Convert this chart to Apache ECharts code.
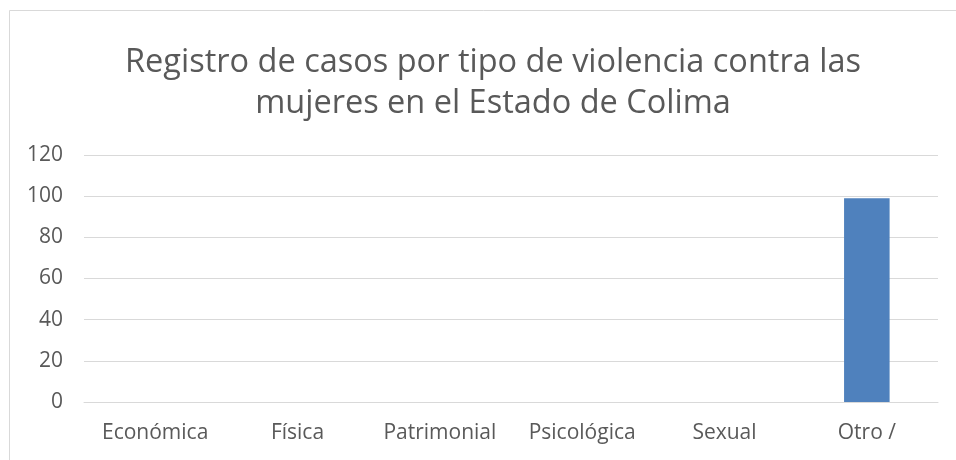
<!DOCTYPE html>
<html>
<head>
<meta charset="utf-8">
<script src="https://cdn.jsdelivr.net/npm/echarts@6/dist/echarts.min.js"></script>
<style>
  html, body { margin: 0; padding: 0; background: #fff; }
  #chart { width: 956px; height: 460px; }
</style>
</head>
<body>
<div id="chart"></div>
<script>
// datos
var categorias = ['Económica', 'Física', 'Patrimonial', 'Psicológica', 'Sexual', 'Otro /'];
var casos = [0, 0, 0, 0, 0, 99];
var tituloLineas = ['Registro de casos por tipo de violencia contra las', 'mujeres en el Estado de Colima'];

var myChart = echarts.init(document.getElementById('chart'));
var option = {
  backgroundColor: '#fff',
  animation: false,
  graphic: [
    {
      type: 'rect',
      shape: { x: 9.5, y: 10.5, width: 1000, height: 1000 },
      style: { fill: 'none', stroke: '#d9d9d9', lineWidth: 1 },
      silent: true
    }
  ],
  title: {
    text: tituloLineas.join('\n'),
    left: 488,
    textAlign: 'center',
    top: 37,
    textStyle: {
      fontFamily: 'Open Sans',
      fontSize: 32.5,
      fontWeight: 'normal',
      color: '#595959',
      lineHeight: 41
    }
  },
  grid: {
    left: 84,
    right: 18,
    top: 155,
    bottom: 58,
    containLabel: false
  },
  xAxis: {
    type: 'category',
    data: categorias,
    axisLine: { show: true, lineStyle: { color: '#d9d9d9' } },
    axisTick: { show: false },
    axisLabel: {
      interval: 0,
      hideOverlap: false,
      color: '#595959',
      fontSize: 21,
      fontFamily: 'Open Sans',
      margin: 21
    }
  },
  yAxis: {
    type: 'value',
    min: 0,
    max: 120,
    interval: 20,
    axisLine: { show: false },
    axisTick: { show: false },
    splitLine: { lineStyle: { color: '#d9d9d9', width: 1 } },
    axisLabel: {
      color: '#595959',
      fontSize: 21,
      fontFamily: 'Open Sans',
      margin: 21
    }
  },
  series: [
    {
      type: 'bar',
      data: casos,
      barWidth: '32%',
      itemStyle: { color: '#4f81bd' }
    }
  ]
};
option && myChart.setOption(option);
</script>
</body>
</html>
